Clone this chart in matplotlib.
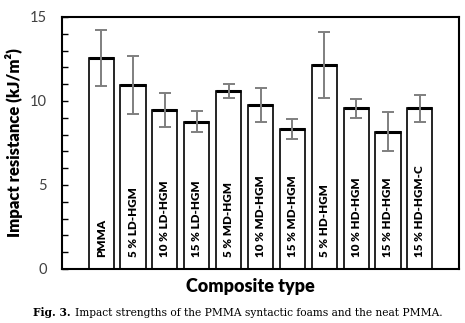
import matplotlib
matplotlib.use("Agg")
import matplotlib.pyplot as plt
import numpy as np

# composite types and impact data (kJ/m^2)
labels = ["PMMA", "5 % LD-HGM", "10 % LD-HGM", "15 % LD-HGM",
          "5 % MD-HGM", "10 % MD-HGM", "15 % MD-HGM",
          "5 % HD-HGM", "10 % HD-HGM", "15 % HD-HGM", "15 % HD-HGM-C"]
impact = [12.55, 10.95, 9.46, 8.77, 10.6, 9.76, 8.31, 12.14, 9.56, 8.17, 9.56]
err = [1.67, 1.7, 1.0, 0.63, 0.43, 1.0, 0.6, 1.97, 0.58, 1.15, 0.82]

fig = plt.figure(figsize=(4.65, 3.23), dpi=100)
ax = fig.add_axes([62/465, 1-269/323, 397/465, 252/323])

x = np.arange(len(labels))
w = 0.79
ax.bar(x, impact, width=w, color="white", edgecolor="black", linewidth=1.2, zorder=2)
# thicker top edge
ax.hlines(impact, x - w/2, x + w/2, colors="black", linewidth=2.2, zorder=3)
ax.errorbar(x, impact, yerr=err, fmt="none", ecolor="#7f7f7f", elinewidth=1.4,
            capsize=4, capthick=1.4, zorder=4)

for xi, lab in zip(x, labels):
    ax.text(xi, 0.7, lab, rotation=90, ha="center", va="bottom",
            fontsize=8.4, fontweight="heavy", family="Lato", zorder=5)

ax.set_xlim(-1.23, 10 + 1.23)
ax.set_ylim(0, 15)
ax.set_xticks([])
ax.set_yticks([0, 5, 10, 15])
ax.set_yticks(np.arange(0, 16, 1), minor=True)
ax.tick_params(axis="y", which="both", direction="in", length=4, width=1, pad=11,
               labelsize=10.5, labelcolor="#404040")
for lbl in ax.get_yticklabels():
    lbl.set_family("Lato")
for s in ax.spines.values():
    s.set_linewidth(1.5)

ax.set_ylabel("Impact resistance (kJ/m²)", fontsize=12, fontweight="heavy",
              family="Lato", labelpad=5)
ax.set_xlabel("Composite type", fontsize=13, fontweight="heavy", family="Lato", labelpad=4)
ax.xaxis.set_label_coords((250 - 62) / 397, -0.035, transform=ax.transAxes)
ax.xaxis.label.set_va("top")

# caption: bold "Fig. 3." followed by regular text
cap_y = 1 - 313/323
t1 = fig.text(33/465, cap_y, "Fig. 3.", ha="left", va="center", fontsize=7.7,
              fontweight="bold", family="DejaVu Serif")
fig.canvas.draw()
bb = t1.get_window_extent()
fig.text((bb.x1 + 4) / fig.bbox.width, cap_y,
         "Impact strengths of the PMMA syntactic foams and the neat PMMA.",
         ha="left", va="center", fontsize=7.7, family="DejaVu Serif")

fig.savefig("out.png", dpi=100)
